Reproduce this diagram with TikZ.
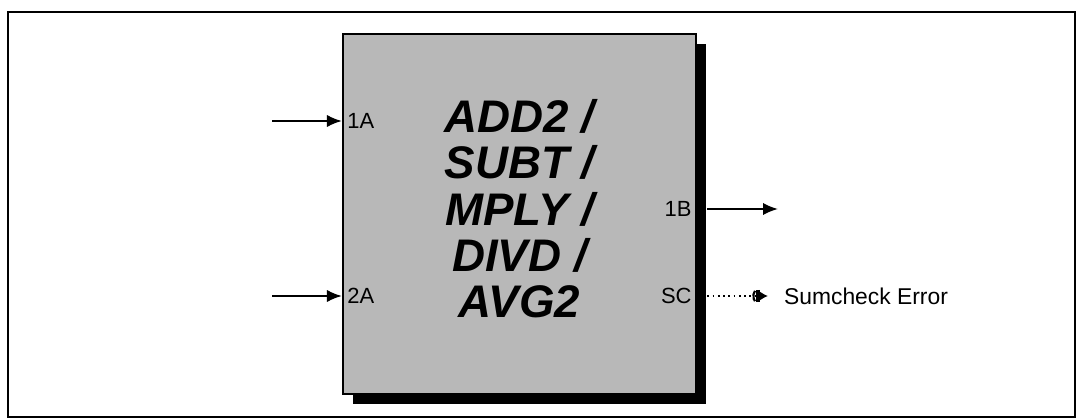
\documentclass[tikz,border=0pt]{standalone}
\usepackage{fontspec}
\setmainfont{Liberation Sans}
\usetikzlibrary{arrows.meta, positioning, shadows}

\begin{document}
\begin{tikzpicture}[x=0.02cm, y=-0.02cm, font=\fontsize{13}{15}\selectfont,
    sig/.style={line width=1.1pt, -{Latex[length=8.5pt,width=7pt]}},
    pinlab/.style={inner sep=3pt, font=\fontsize{12.5}{14}\selectfont},
    blkbox/.style={draw, line width=1.2pt, fill=black!28, minimum width=201pt, minimum height=205pt,
        general shadow={fill=black, shadow xshift=5.8pt, shadow yshift=-5.8pt}}]
    \useasboundingbox (0,0) rectangle (1080,419);
    \draw[line width=1pt] (8,12) rectangle (1075,417);
    % block
    \node[blkbox] (blk) at (519.5,214) {};
    \coordinate (shd) at ([xshift=5.8pt]blk.south east);
    \node[font=\fontsize{26}{26.4}\selectfont\bfseries\itshape, align=center, inner sep=0pt] (fn) at ([yshift=3pt]blk.center) {ADD2 /\\SUBT /\\MPLY /\\DIVD /\\AVG2};
    % inputs
    \foreach \n/\y in {1/121, 2/296} {
        \coordinate (in\n) at (272,\y);
        \draw[sig] (in\n) -- (in\n -| blk.west);
        \node[pinlab, right] (p\n a) at (in\n -| blk.west) {\n A};
    }
    % outputs
    \coordinate (out1) at (778,209);
    \draw[sig] (shd |- out1) -- (out1);
    \node[pinlab, left] (p1b) at (out1 -| blk.east) {1B};
    \node[pinlab, left] (psc) at (blk.east |- 0,296) {SC};
    \node[right, inner xsep=9pt, inner ysep=0pt] (err) at (768,296) {Sumcheck Error};
    \draw[line width=1pt, dash pattern=on 1pt off 2pt,
        -{Parenthesis[reversed,length=2.5pt,width=8pt,line width=1.2pt] Bar[width=7pt,line width=2.6pt] Latex[length=4.5pt,width=5pt]}]
        (shd |- err.west) -- (err.west);
\end{tikzpicture}
\end{document}
